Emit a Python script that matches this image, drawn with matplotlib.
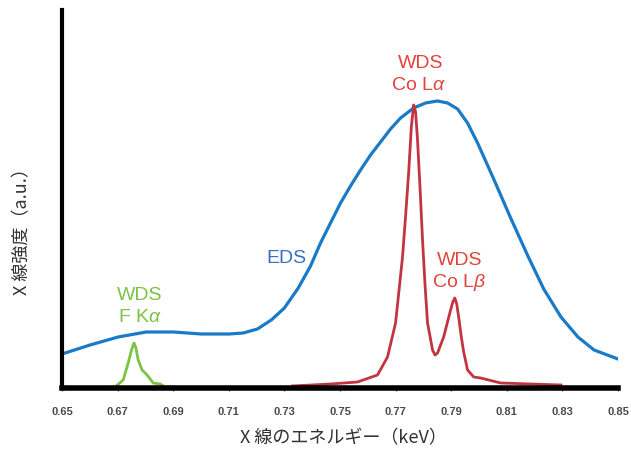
import numpy as np
import matplotlib
matplotlib.use("Agg")
import matplotlib.pyplot as plt

plt.rcParams['font.family'] = ['Noto Sans CJK JP', 'DejaVu Sans']
plt.rcParams['mathtext.fontset'] = 'custom'
plt.rcParams['mathtext.rm'] = 'Liberation Sans'
plt.rcParams['mathtext.it'] = 'Liberation Sans:italic'

# EDS スペクトル (keV, a.u.)
eds_x = [0.6500, 0.6601, 0.6702, 0.6803, 0.6900, 0.7001, 0.7102, 0.7152, 0.7203,
         0.7253, 0.7300, 0.7350, 0.7394, 0.7430, 0.7466, 0.7502, 0.7538, 0.7574,
         0.7610, 0.7646, 0.7682, 0.7718, 0.7765, 0.7808, 0.7851, 0.7887, 0.7923,
         0.7959, 0.7995, 0.8053, 0.8114, 0.8176, 0.8233, 0.8295, 0.8356, 0.8414,
         0.8500]
eds_y = [34, 43, 51, 56, 56, 54, 54, 55, 59,
         68, 80, 100, 122, 145, 165, 185, 202, 218,
         233, 246, 259, 270, 280, 285, 287, 285, 279,
         265, 245, 209, 170, 132, 99, 71, 51, 38,
         29]

# WDS Co L
co_x = [0.7329, 0.7466, 0.7563, 0.7635, 0.7671, 0.7700, 0.7725, 0.7736, 0.7747,
        0.7757, 0.7765, 0.7772, 0.7779, 0.7788, 0.7797, 0.7806, 0.7815, 0.7833,
        0.7842, 0.7851, 0.7873, 0.7898, 0.7906, 0.7913, 0.7920, 0.7927, 0.7936,
        0.7945, 0.7959, 0.7981, 0.8006, 0.8078, 0.8186, 0.8295]
co_y = [2, 4, 6, 13, 31, 65, 131, 172, 215,
        262, 283, 276, 248, 200, 148, 103, 65, 38,
        33, 35, 51, 78, 86, 90, 84, 71, 52,
        36, 18, 11, 10, 5, 4, 3]

# WDS F Kα
f_x = [0.6608, 0.6691, 0.6720, 0.6738, 0.6750, 0.6759, 0.6766, 0.6774, 0.6788,
       0.6806, 0.6828, 0.6853, 0.6871, 0.6943]
f_y = [0, 1, 8, 25, 38, 45, 40, 28, 18,
       13, 5, 4, 1, 0]

xticks = [0.65, 0.67, 0.69, 0.71, 0.73, 0.75, 0.77, 0.79, 0.81, 0.83, 0.85]

fig = plt.figure(figsize=(6.31, 4.53), dpi=100)
ax = fig.add_axes([0.0983, 0.1435, 0.881, 0.8345])

ax.plot(eds_x, eds_y, color='#1a7ac6', lw=2.3, solid_joinstyle='round')
ax.plot(co_x, co_y, color='#c23440', lw=2.0, solid_joinstyle='round')
ax.plot(f_x, f_y, color='#7cc243', lw=2.0, solid_joinstyle='round')

ax.set_xlim(0.65, 0.85)
ax.set_ylim(0, 378)
ax.set_xticks(xticks)
ax.set_xticklabels([f'{t:.2f}' for t in xticks], family=['Liberation Sans'],
                   fontsize=8, color='#4a4a4a', fontweight='bold')
ax.set_yticks([])
ax.tick_params(axis='x', length=2.5, width=0.8, pad=11, color='#555555')

for s in ['top', 'right']:
    ax.spines[s].set_visible(False)
ax.spines['left'].set_linewidth(3)
ax.spines['bottom'].set_linewidth(4)

red = '#e0443c'
green = '#7cc243'
lab = dict(ha='center', va='baseline', fontsize=14, family=['Liberation Sans'])
ax.text(0.7790, 320, 'WDS', color=red, **lab)
ax.text(0.7782, 298, 'Co L$\\alpha$', color=red, **lab)
ax.text(0.7307, 125, 'EDS', color='#3a6fc4', **lab)
ax.text(0.7931, 123, 'WDS', color=red, **lab)
ax.text(0.7929, 101, 'Co L$\\beta$', color=red, **lab)
ax.text(0.6781, 88, 'WDS', color=green, **lab)
ax.text(0.6779, 66, 'F K$\\alpha$', color=green, **lab)

fig.text(0.545, 0.033, 'X 線のエネルギー（keV）', ha='center', va='center',
         fontsize=13, color='#333333')
fig.text(0.035, 0.499, 'X 線強度（a.u.）', ha='center', va='center', rotation=90,
         fontsize=13, color='#333333')

fig.savefig('out.png', dpi=100)
